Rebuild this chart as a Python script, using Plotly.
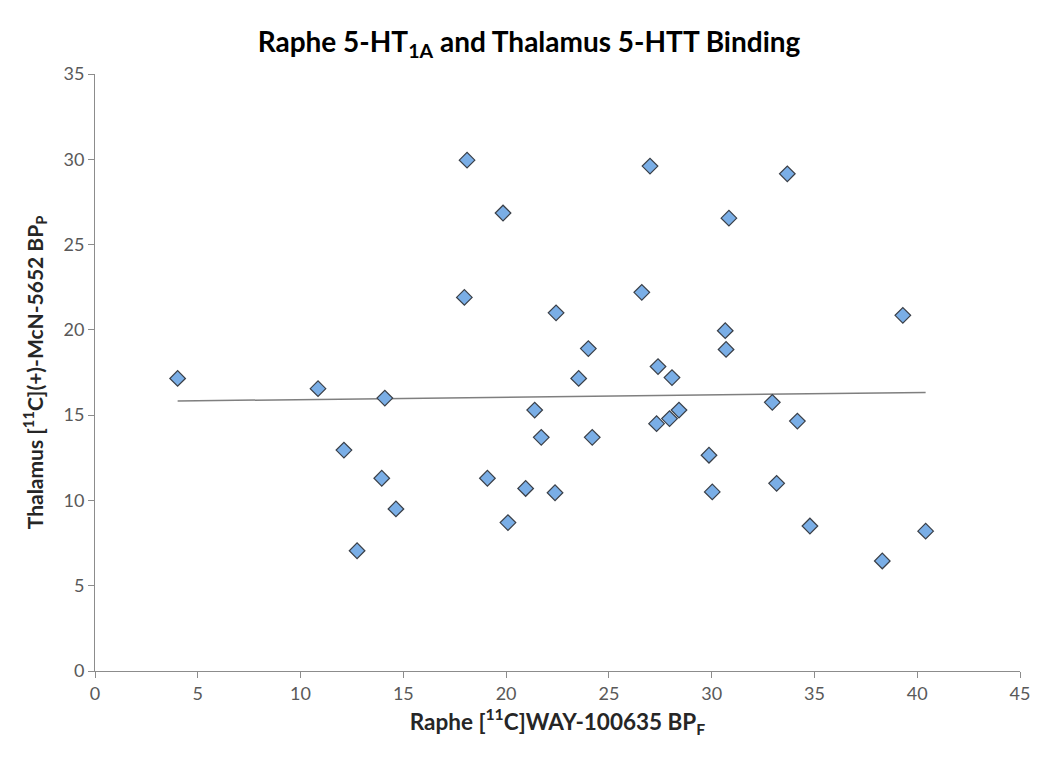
import numpy as np
import plotly.graph_objects as go

# Raphe [11C]WAY-100635 BPF
raphe_bpf = [4.02, 10.85, 12.11, 12.75, 13.95, 14.10, 14.64, 17.97, 18.10, 19.09,
             19.85, 20.09, 20.95, 21.39, 21.71, 22.38, 22.43, 23.53, 24.00, 24.19,
             26.60, 27.00, 27.32, 27.39, 27.95, 28.07, 28.41, 29.87, 30.03, 30.66,
             30.70, 30.84, 32.95, 33.16, 33.68, 34.17, 34.78, 38.30, 39.30, 40.41]

# Thalamus [11C](+)-McN-5652 BPP
thalamus_bpp = [17.15, 16.55, 12.95, 7.05, 11.30, 16.00, 9.50, 21.90, 29.95, 11.30,
                26.85, 8.70, 10.70, 15.30, 13.70, 10.45, 21.00, 17.15, 18.90, 13.70,
                22.20, 29.60, 14.50, 17.85, 14.80, 17.20, 15.30, 12.65, 10.50, 19.95,
                18.85, 26.55, 15.75, 11.00, 29.15, 14.65, 8.50, 6.45, 20.85, 8.20]

x_ticks = [0, 5, 10, 15, 20, 25, 30, 35, 40, 45]
y_ticks = [0, 5, 10, 15, 20, 25, 30, 35]

# linear trendline, as Excel draws it
slope, intercept = np.polyfit(raphe_bpf, thalamus_bpp, 1)
trend_x = [min(raphe_bpf), max(raphe_bpf)]
trend_y = [intercept + slope * v for v in trend_x]

fig = go.Figure()

fig.add_trace(go.Scatter(
    x=trend_x, y=trend_y,
    mode='lines',
    line=dict(color='#7f7f7f', width=1.5),
    hoverinfo='skip',
    showlegend=False
))

fig.add_trace(go.Scatter(
    x=raphe_bpf, y=thalamus_bpp,
    mode='markers',
    marker=dict(symbol='diamond', size=12, color='#7aaee6',
                line=dict(color='#3a3f47', width=1.2)),
    showlegend=False
))

axis_style = dict(
    showgrid=False,
    zeroline=False,
    showline=True,
    linecolor='#8c8c8c',
    linewidth=1,
    ticks='outside',
    ticklen=6,
    tickcolor='#8c8c8c',
    tickfont=dict(family='Lato', size=18, color='#595959'),
)

# the page body has an 8px margin, so the figure is a bit smaller than the window
fig.update_layout(
    width=1042, height=755,
    paper_bgcolor='white',
    plot_bgcolor='white',
    margin=dict(l=87, r=30, t=66, b=92),
    title=dict(
        text='<b>Raphe 5-HT<sub>1A</sub> and Thalamus 5-HTT Binding</b>',
        x=0.5, xanchor='center', y=0.955, yanchor='middle',
        font=dict(family='Lato', size=28, color='black')
    ),
    xaxis=dict(
        range=[0, 45], tickvals=x_ticks,
        title=dict(text='<b>Raphe [<sup>11</sup>C]WAY-100635 BP<sub>F</sub></b>',
                   font=dict(family='Lato', size=22.5, color='#262626'), standoff=11),
        **axis_style
    ),
    yaxis=dict(
        range=[0, 35], tickvals=y_ticks,
        title=dict(text='<b>Thalamus [<sup>11</sup>C](+)-McN-5652 BP<sub>P</sub></b>',
                   font=dict(family='Lato', size=21, color='#262626'), standoff=14),
        **axis_style
    ),
)

fig.write_html("out.html")
